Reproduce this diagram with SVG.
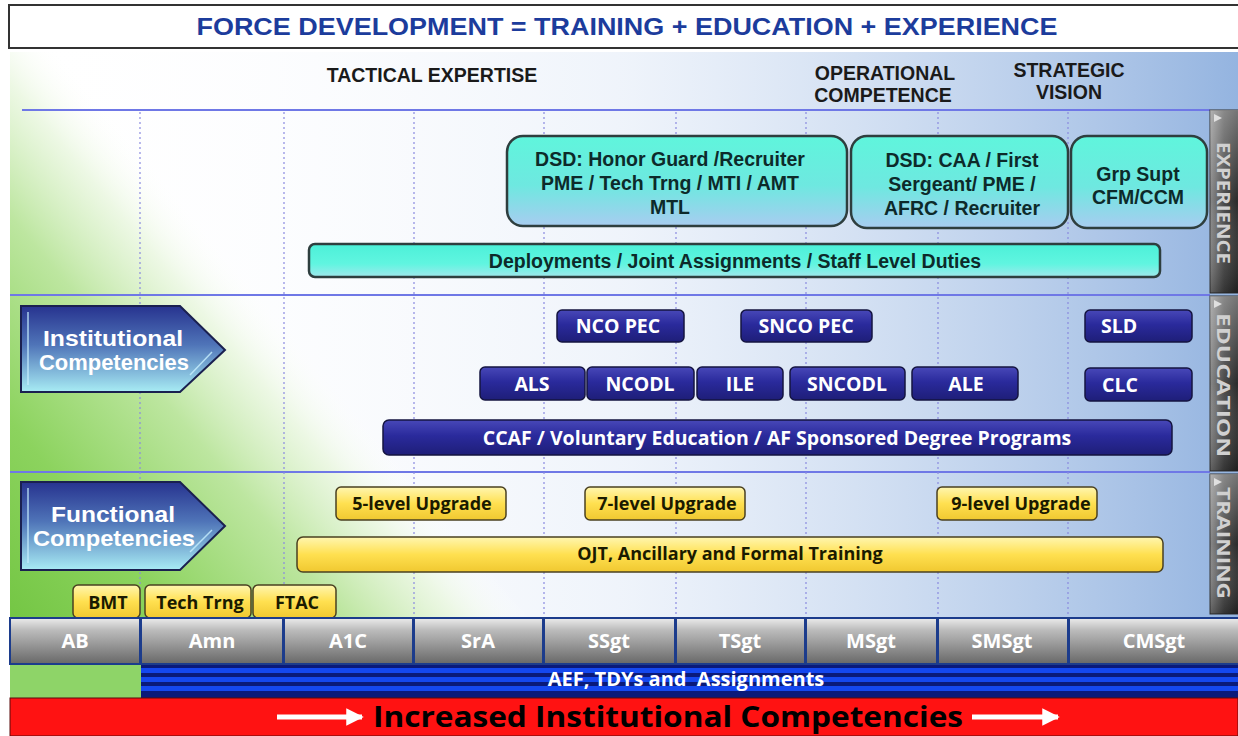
<svg xmlns="http://www.w3.org/2000/svg" width="1238" height="736" viewBox="0 0 1238 736">
<defs>
<linearGradient id="gGreen" gradientUnits="userSpaceOnUse" x1="10" y1="618" x2="450" y2="250">
<stop offset="0" stop-color="#74c644"/><stop offset="0.22" stop-color="#8cd35e"/><stop offset="0.45" stop-color="#bde6a0"/><stop offset="0.6" stop-color="#eaf7e0" stop-opacity="0.85"/><stop offset="0.7" stop-color="#ffffff" stop-opacity="0"/>
</linearGradient>
<linearGradient id="gBlue" x1="0" y1="0" x2="1" y2="0">
<stop offset="0" stop-color="#ffffff" stop-opacity="0"/><stop offset="0.5" stop-color="#e4ecf8" stop-opacity="0.6"/><stop offset="1" stop-color="#94b4e0"/>
</linearGradient>
<linearGradient id="gCyan" x1="0" y1="0" x2="0" y2="1">
<stop offset="0" stop-color="#5ff5dc"/><stop offset="0.55" stop-color="#6ee8e0"/><stop offset="1" stop-color="#a8ccf0"/>
</linearGradient>
<linearGradient id="gCyanBar" x1="0" y1="0" x2="0" y2="1">
<stop offset="0" stop-color="#4cf0d8"/><stop offset="0.6" stop-color="#60f5e0"/><stop offset="1" stop-color="#a0e8ec"/>
</linearGradient>
<linearGradient id="gNavy" x1="0" y1="0" x2="0" y2="1">
<stop offset="0" stop-color="#4848b8"/><stop offset="0.45" stop-color="#2a2a9c"/><stop offset="1" stop-color="#1e1e78"/>
</linearGradient>
<linearGradient id="gYel" x1="0" y1="0" x2="0" y2="1">
<stop offset="0" stop-color="#fff6b0"/><stop offset="0.5" stop-color="#ffe050"/><stop offset="1" stop-color="#f0c830"/>
</linearGradient>
<linearGradient id="gArrow" x1="0" y1="0" x2="0" y2="1">
<stop offset="0" stop-color="#27338f"/><stop offset="0.45" stop-color="#4f74b8"/><stop offset="1" stop-color="#a8ecf4"/>
</linearGradient>
<linearGradient id="gRank" x1="0" y1="0" x2="0" y2="1">
<stop offset="0" stop-color="#e8e8e8"/><stop offset="0.25" stop-color="#bcbcbc"/><stop offset="1" stop-color="#6a6a6a"/>
</linearGradient>
<linearGradient id="gTab" x1="0" y1="0" x2="1" y2="0">
<stop offset="0" stop-color="#8a8a8a"/><stop offset="0.5" stop-color="#4a4a4a"/><stop offset="1" stop-color="#2a2a2a"/>
</linearGradient>
<linearGradient id="gTabV" x1="0" y1="0" x2="0" y2="1">
<stop offset="0" stop-color="#ffffff" stop-opacity="0.35"/><stop offset="0.5" stop-color="#ffffff" stop-opacity="0"/><stop offset="1" stop-color="#000000" stop-opacity="0.3"/>
</linearGradient>
<marker id="wArrow" viewBox="0 0 10 10" refX="9" refY="5" markerWidth="3.5" markerHeight="3.5" orient="auto"><path d="M0,0 L10,5 L0,10 z" fill="#ffffff"/></marker>
<style>
.hdr{font-family:"Liberation Sans",Arial,sans-serif;font-weight:700;font-size:19.5px;fill:#1a1a1a;text-anchor:middle}
.bt{font-family:"Liberation Sans",Arial,sans-serif;font-weight:700;font-size:19.5px;fill:#0d2a2a;text-anchor:middle}
.wt{font-family:"Open Sans","Liberation Sans",sans-serif;font-weight:700;font-size:19.5px;fill:#ffffff;text-anchor:middle}
.yt{font-family:"Open Sans","Liberation Sans",sans-serif;font-weight:700;font-size:18px;fill:#1a1a00;text-anchor:middle}
.rk{font-family:"Open Sans","Liberation Sans",sans-serif;font-weight:700;font-size:20px;fill:#ffffff;text-anchor:middle}
.tab{font-family:"Open Sans","Liberation Sans",sans-serif;font-weight:700;font-size:18px;fill:#d0d0d0;text-anchor:middle}
.arw{font-family:"Liberation Sans",Arial,sans-serif;font-weight:700;font-size:21.5px;fill:#ffffff;text-anchor:middle}
.cy{fill:url(#gCyan);stroke:#2e3e3e;stroke-width:2.5}
.nv{fill:url(#gNavy);stroke:#141440;stroke-width:1.5}
.yl{fill:url(#gYel);stroke:#4a4020;stroke-width:1.5}
.hl{stroke:#6f78e6;stroke-width:2}
.vd{stroke:#8a8ae0;stroke-width:1.2;stroke-dasharray:2,3}
</style>
</defs>

<rect x="0" y="0" width="1238" height="736" fill="#ffffff"/>
<g id="background">
<rect x="10" y="52" width="1200" height="566" fill="#ffffff"/>
<rect x="10" y="52" width="1228" height="566" fill="url(#gBlue)"/>
<rect x="10" y="52" width="700" height="566" fill="url(#gGreen)"/>
</g>

<g id="title">
<rect x="9" y="5" width="1240" height="43" fill="#ffffff" stroke="#333333" stroke-width="2"/>
<text x="627" y="35" font-family="Liberation Sans, Arial, sans-serif" font-weight="700" font-size="24" fill="#1c3c9c" text-anchor="middle" textLength="861" lengthAdjust="spacingAndGlyphs">FORCE DEVELOPMENT = TRAINING + EDUCATION + EXPERIENCE</text>
</g>

<g id="headers">
<text class="hdr" x="432" y="82">TACTICAL EXPERTISE</text>
<text class="hdr" x="885" y="80">OPERATIONAL</text>
<text class="hdr" x="883" y="102">COMPETENCE</text>
<text class="hdr" x="1069" y="77">STRATEGIC</text>
<text class="hdr" x="1069" y="99">VISION</text>
</g>

<g id="grid">
<line class="hl" x1="22" y1="110" x2="1210" y2="110"/>
<line class="hl" x1="10" y1="295" x2="1210" y2="295"/>
<line class="hl" x1="10" y1="472" x2="1210" y2="472"/>
<line class="vd" x1="140" y1="112" x2="140" y2="617"/>
<line class="vd" x1="284" y1="112" x2="284" y2="617"/>
<line class="vd" x1="414" y1="112" x2="414" y2="617"/>
<line class="vd" x1="544" y1="112" x2="544" y2="617"/>
<line class="vd" x1="676" y1="112" x2="676" y2="617"/>
<line class="vd" x1="806" y1="112" x2="806" y2="617"/>
<line class="vd" x1="938" y1="112" x2="938" y2="617"/>
<line class="vd" x1="1068" y1="112" x2="1068" y2="617"/>
</g>

<g id="tab-experience">
<rect x="1210" y="110" width="28" height="183" fill="url(#gTab)" stroke="#333" stroke-width="1"/>
<rect x="1210" y="110" width="28" height="183" fill="url(#gTabV)"/>
<path d="M1214,114 L1222,118 L1214,122 z" fill="#e0e0e0"/>
<text class="tab" transform="translate(1217,203) rotate(90)" textLength="122" lengthAdjust="spacingAndGlyphs">EXPERIENCE</text>
</g>
<g id="tab-education">
<rect x="1210" y="296" width="28" height="175" fill="url(#gTab)" stroke="#333" stroke-width="1"/>
<rect x="1210" y="296" width="28" height="175" fill="url(#gTabV)"/>
<path d="M1214,300 L1222,304 L1214,308 z" fill="#e0e0e0"/>
<text class="tab" transform="translate(1217,385) rotate(90)" textLength="144" lengthAdjust="spacingAndGlyphs">EDUCATION</text>
</g>
<g id="tab-training">
<rect x="1210" y="474" width="28" height="140" fill="url(#gTab)" stroke="#333" stroke-width="1"/>
<rect x="1210" y="474" width="28" height="140" fill="url(#gTabV)"/>
<path d="M1214,478 L1222,482 L1214,486 z" fill="#e0e0e0"/>
<text class="tab" transform="translate(1217,543) rotate(90)" textLength="112" lengthAdjust="spacingAndGlyphs">TRAINING</text>
</g>

<g id="dsd-honor">
<rect class="cy" x="507" y="136" width="340" height="90" rx="16"/>
<text class="bt" x="670" y="166">DSD: Honor Guard /Recruiter</text>
<text class="bt" x="670" y="190">PME / Tech Trng / MTI / AMT</text>
<text class="bt" x="670" y="214">MTL</text>
</g>
<g id="dsd-caa">
<rect class="cy" x="851" y="136" width="217" height="92" rx="16"/>
<text class="bt" x="962" y="167">DSD: CAA / First</text>
<text class="bt" x="962" y="191">Sergeant/ PME /</text>
<text class="bt" x="962" y="215">AFRC / Recruiter</text>
</g>
<g id="grp-supt">
<rect class="cy" x="1071" y="136" width="136" height="92" rx="16"/>
<text class="bt" x="1138" y="181">Grp Supt</text>
<text class="bt" x="1138" y="204">CFM/CCM</text>
</g>
<g id="deployments">
<rect x="309" y="244" width="851" height="33" rx="6" fill="url(#gCyanBar)" stroke="#2e3e3e" stroke-width="2.5"/>
<text class="bt" x="735" y="268">Deployments / Joint Assignments / Staff Level Duties</text>
</g>

<g id="institutional">
<path d="M21,306 L180,306 L225,350 L180,392 L21,392 z" fill="url(#gArrow)" stroke="#1a2050" stroke-width="2"/>
<path d="M28,312 L28,385 M190,375 L212,352" stroke="#c8f0ff" stroke-width="1.5" fill="none" opacity="0.8"/>
<text class="arw" x="113" y="346" textLength="140" lengthAdjust="spacingAndGlyphs">Institutional</text>
<text class="arw" x="114" y="370" textLength="150" lengthAdjust="spacingAndGlyphs">Competencies</text>
</g>
<g id="nco-pec">
<rect class="nv" x="557" y="310" width="127" height="32" rx="5"/>
<text class="wt" x="618" y="333">NCO PEC</text>
</g>
<g id="snco-pec">
<rect class="nv" x="741" y="310" width="131" height="32" rx="5"/>
<text class="wt" x="806" y="333">SNCO PEC</text>
</g>
<g id="sld">
<rect class="nv" x="1085" y="310" width="107" height="32" rx="5"/>
<text class="wt" x="1119" y="333">SLD</text>
</g>
<g id="als">
<rect class="nv" x="480" y="367" width="105" height="33" rx="5"/>
<text class="wt" x="532" y="391">ALS</text>
</g>
<g id="ncodl">
<rect class="nv" x="587" y="367" width="107" height="33" rx="5"/>
<text class="wt" x="640" y="391">NCODL</text>
</g>
<g id="ile">
<rect class="nv" x="697" y="367" width="86" height="33" rx="5"/>
<text class="wt" x="740" y="391">ILE</text>
</g>
<g id="sncodl">
<rect class="nv" x="790" y="367" width="115" height="33" rx="5"/>
<text class="wt" x="847" y="391">SNCODL</text>
</g>
<g id="ale">
<rect class="nv" x="912" y="367" width="106" height="33" rx="5"/>
<text class="wt" x="966" y="391">ALE</text>
</g>
<g id="clc">
<rect class="nv" x="1085" y="368" width="107" height="33" rx="5"/>
<text class="wt" x="1120" y="392">CLC</text>
</g>
<g id="ccaf">
<rect class="nv" x="383" y="420" width="789" height="35" rx="6"/>
<text class="wt" x="777" y="445">CCAF / Voluntary Education / AF Sponsored Degree Programs</text>
</g>

<g id="functional">
<path d="M21,482 L180,482 L225,526 L180,570 L21,570 z" fill="url(#gArrow)" stroke="#1a2050" stroke-width="2"/>
<path d="M28,488 L28,563 M190,552 L212,530" stroke="#c8f0ff" stroke-width="1.5" fill="none" opacity="0.8"/>
<text class="arw" x="113" y="522" textLength="124" lengthAdjust="spacingAndGlyphs">Functional</text>
<text class="arw" x="114" y="546" textLength="162" lengthAdjust="spacingAndGlyphs">Competencies</text>
</g>
<g id="five-level">
<rect class="yl" x="336" y="487" width="170" height="33" rx="5"/>
<text class="yt" x="422" y="510">5-level Upgrade</text>
</g>
<g id="seven-level">
<rect class="yl" x="585" y="487" width="160" height="33" rx="5"/>
<text class="yt" x="667" y="510">7-level Upgrade</text>
</g>
<g id="nine-level">
<rect class="yl" x="937" y="487" width="160" height="33" rx="5"/>
<text class="yt" x="1021" y="510">9-level Upgrade</text>
</g>
<g id="ojt">
<rect class="yl" x="297" y="537" width="866" height="35" rx="6"/>
<text class="yt" x="730" y="560" font-size="22">OJT, Ancillary and Formal Training</text>
</g>
<g id="bmt">
<rect class="yl" x="73" y="585" width="67" height="33" rx="5"/>
<text class="yt" x="108" y="609" font-size="21">BMT</text>
</g>
<g id="tech-trng">
<rect class="yl" x="145" y="585" width="106" height="33" rx="5"/>
<text class="yt" x="200" y="609" font-size="21">Tech Trng</text>
</g>
<g id="ftac">
<rect class="yl" x="253" y="585" width="83" height="33" rx="5"/>
<text class="yt" x="297" y="609" font-size="21">FTAC</text>
</g>

<g id="ranks">
<rect x="9" y="617" width="1229" height="48" fill="#1c3c8c"/>
<rect x="11" y="619" width="128" height="44" fill="url(#gRank)"/>
<rect x="142" y="619" width="140" height="44" fill="url(#gRank)"/>
<rect x="285" y="619" width="127" height="44" fill="url(#gRank)"/>
<rect x="415" y="619" width="127" height="44" fill="url(#gRank)"/>
<rect x="545" y="619" width="129" height="44" fill="url(#gRank)"/>
<rect x="677" y="619" width="127" height="44" fill="url(#gRank)"/>
<rect x="807" y="619" width="129" height="44" fill="url(#gRank)"/>
<rect x="939" y="619" width="128" height="44" fill="url(#gRank)"/>
<rect x="1070" y="619" width="168" height="44" fill="url(#gRank)"/>
<text class="rk" x="75" y="648">AB</text>
<text class="rk" x="212" y="648">Amn</text>
<text class="rk" x="348" y="648">A1C</text>
<text class="rk" x="478" y="648">SrA</text>
<text class="rk" x="609" y="648">SSgt</text>
<text class="rk" x="740" y="648">TSgt</text>
<text class="rk" x="871" y="648">MSgt</text>
<text class="rk" x="1002" y="648">SMSgt</text>
<text class="rk" x="1154" y="648">CMSgt</text>
</g>

<g id="aef">
<rect x="10" y="665" width="131" height="33" fill="#8ed468"/>
<rect x="141" y="665" width="1097" height="33" fill="#0a1a7a"/>
<rect x="141" y="668" width="1097" height="5" fill="#1448f0"/>
<rect x="141" y="677" width="1097" height="5" fill="#1448f0"/>
<rect x="141" y="686" width="1097" height="5" fill="#1448f0"/>
<text x="686" y="686" font-family="Open Sans, Liberation Sans, sans-serif" font-weight="700" font-size="20" fill="#ffffff" text-anchor="middle" xml:space="preserve">AEF, TDYs and  Assignments</text>
</g>

<g id="increased">
<rect x="10" y="698" width="1228" height="38" fill="#ff1212" stroke="#5a0a0a" stroke-width="1"/>
<line x1="277" y1="717" x2="362" y2="717" stroke="#ffffff" stroke-width="5" marker-end="url(#wArrow)"/>
<line x1="972" y1="717" x2="1058" y2="717" stroke="#ffffff" stroke-width="5" marker-end="url(#wArrow)"/>
<text x="668" y="727" font-family="Open Sans, Liberation Sans, sans-serif" font-weight="700" font-size="29" fill="#000000" text-anchor="middle" textLength="590" lengthAdjust="spacingAndGlyphs">Increased Institutional Competencies</text>
</g>
</svg>
